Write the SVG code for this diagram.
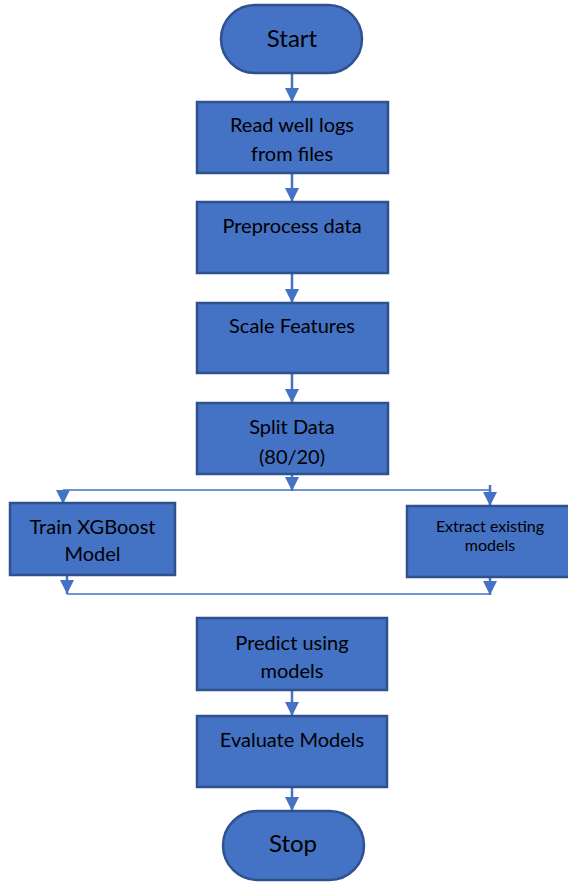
<svg xmlns="http://www.w3.org/2000/svg" width="568" height="883" viewBox="0 0 568 883">
<style>
.n{fill:#4472C4;stroke:#2F528F;stroke-width:2.5}
.t{font-family:Lato,"Liberation Sans",sans-serif;font-size:20px;fill:#000;text-anchor:middle}
.big{font-size:24px}
.sm{font-size:16px}
.c{stroke:#4472C4;stroke-width:2.5;fill:none}
.h{stroke:#4472C4;stroke-width:1.6;fill:none}
</style>
<defs>
<marker id="ah" viewBox="0 0 14 14" refX="14" refY="7" markerWidth="14" markerHeight="14" orient="auto" markerUnits="userSpaceOnUse">
<path d="M0,0 L14,7 L0,14 z" fill="#4472C4"/>
</marker>
</defs>
<g id="connectors">
<line class="c" x1="292" y1="73" x2="292" y2="102" marker-end="url(#ah)"/>
<line class="c" x1="292" y1="173" x2="292" y2="202" marker-end="url(#ah)"/>
<line class="c" x1="292" y1="273" x2="292" y2="303" marker-end="url(#ah)"/>
<line class="c" x1="292" y1="373" x2="292" y2="403" marker-end="url(#ah)"/>
<line class="c" x1="292" y1="474" x2="292" y2="491" marker-end="url(#ah)"/>
<line class="h" x1="63" y1="490" x2="491" y2="490"/>
<line class="c" x1="63" y1="490" x2="63" y2="504" marker-end="url(#ah)"/>
<line class="c" x1="490" y1="485" x2="490" y2="506" marker-end="url(#ah)"/>
<line class="c" x1="67" y1="575" x2="67" y2="594" marker-end="url(#ah)"/>
<line class="c" x1="490" y1="577" x2="490" y2="595" marker-end="url(#ah)"/>
<line class="h" x1="67" y1="594" x2="490" y2="594"/>
<line class="c" x1="292" y1="690" x2="292" y2="716" marker-end="url(#ah)"/>
<line class="c" x1="292" y1="787" x2="292" y2="811" marker-end="url(#ah)"/>
</g>
<g id="start"><rect class="n" x="221" y="5" width="141" height="68" rx="34"/><text class="t big" x="292" y="47">Start</text></g>
<g id="read"><rect class="n" x="197" y="102" width="191" height="71"/><text class="t" x="292" y="132">Read well logs</text><text class="t" x="292" y="161">from files</text></g>
<g id="preprocess"><rect class="n" x="197" y="202" width="191" height="71"/><text class="t" x="292" y="233">Preprocess data</text></g>
<g id="scale"><rect class="n" x="197" y="303" width="191" height="70"/><text class="t" x="292" y="333">Scale Features</text></g>
<g id="split"><rect class="n" x="197" y="403" width="191" height="71"/><text class="t" x="292" y="434">Split Data</text><text class="t" x="292" y="464">(80/20)</text></g>
<g id="train"><rect class="n" x="10" y="503" width="165" height="72"/><text class="t" x="92.5" y="534">Train XGBoost</text><text class="t" x="92.5" y="561">Model</text></g>
<g id="extract"><rect class="n" x="407" y="506" width="168" height="71"/><text class="t sm" x="490" y="532">Extract existing</text><text class="t sm" x="490" y="551">models</text></g>
<g id="predict"><rect class="n" x="197" y="618" width="190" height="72"/><text class="t" x="292" y="650">Predict using</text><text class="t" x="292" y="678">models</text></g>
<g id="evaluate"><rect class="n" x="197" y="716" width="190" height="71"/><text class="t" x="292" y="747">Evaluate Models</text></g>
<g id="stop"><rect class="n" x="223" y="811" width="141" height="69" rx="34.5"/><text class="t big" x="293" y="852">Stop</text></g>
</svg>
